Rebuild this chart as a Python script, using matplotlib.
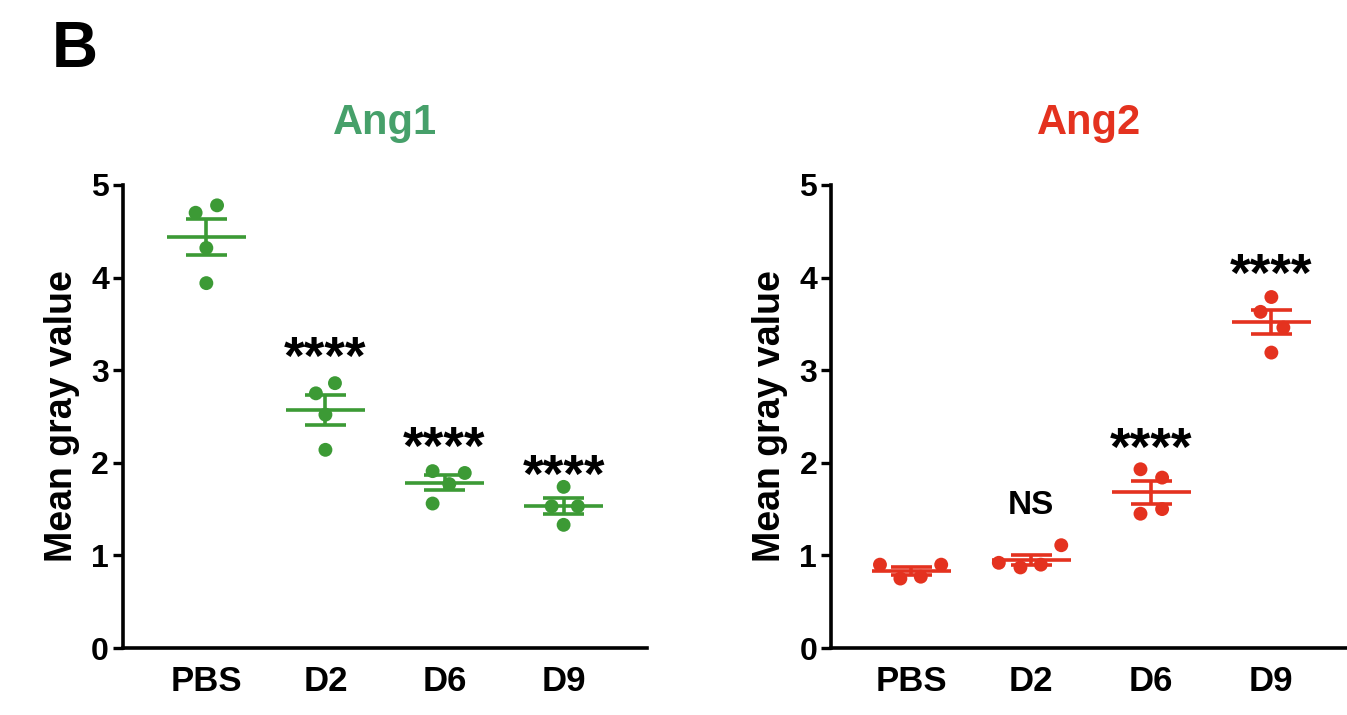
import matplotlib
matplotlib.use("Agg")
import matplotlib.pyplot as plt
import matplotlib.transforms as mtransforms
import numpy as np

plt.rcParams["font.family"] = ["Liberation Sans", "DejaVu Sans"]
plt.rcParams["font.weight"] = "bold"

groups = ["PBS", "D2", "D6", "D9"]

ang1_values = [
    [4.70, 4.78, 4.32, 3.94],
    [2.75, 2.86, 2.52, 2.14],
    [1.91, 1.89, 1.77, 1.56],
    [1.74, 1.53, 1.53, 1.33],
]
ang2_values = [
    [0.90, 0.75, 0.77, 0.90],
    [0.92, 0.87, 0.90, 1.11],
    [1.93, 1.84, 1.45, 1.50],
    [3.79, 3.63, 3.46, 3.19],
]

ang1_marks = ["", "****", "****", "****"]
ang1_mark_y = [None, 3.27, 2.30, 2.00]
ang2_marks = ["", "NS", "****", "****"]
ang2_mark_y = [None, 1.54, 2.29, 4.17]

# horizontal jitter of the dots (layout only)
ang1_jitter = [[-0.09, 0.09, 0.0, 0.0], [-0.08, 0.08, 0.0, 0.0],
               [-0.10, 0.17, 0.04, -0.10], [0.0, -0.10, 0.12, 0.0]]
ang2_jitter = [[-0.26, -0.09, 0.08, 0.25], [-0.27, -0.09, 0.08, 0.25],
               [-0.09, 0.09, -0.09, 0.09], [0.0, -0.09, 0.10, 0.0]]

GREEN = "#3c9a35"
GREEN_TITLE = "#46a06a"
RED = "#e4321f"


def draw_panel(fig, ax, values, jitter, marks, mark_y, color, title, title_color, xlim):
    # stars sit high in the glyph box, so shift them down to centre them on mark_y
    star_tf = mtransforms.offset_copy(ax.transData, fig=fig, y=-29, units="dots")
    for i, (vals, jit) in enumerate(zip(values, jitter)):
        vals = np.array(vals)
        mean = vals.mean()
        sem = vals.std(ddof=1) / np.sqrt(len(vals))
        ax.scatter(i + np.array(jit), vals, s=100, color=color, zorder=3,
                   edgecolors="none")
        ax.hlines(mean, i - 0.33, i + 0.33, color=color, lw=2.6, zorder=4)
        ax.hlines([mean - sem, mean + sem], i - 0.17, i + 0.17, color=color,
                  lw=2.6, zorder=4)
        ax.vlines(i, mean - sem, mean + sem, color=color, lw=2.6, zorder=4)
        if marks[i] == "NS":
            ax.text(i, mark_y[i], marks[i], ha="center", va="center",
                    fontsize=24, fontweight="bold")
        elif marks[i]:
            ax.text(i, mark_y[i], marks[i], ha="center", va="baseline",
                    fontsize=38, fontweight="bold", transform=star_tf)
    ax.set_xlim(*xlim)
    ax.set_ylim(0, 5)
    ax.set_yticks(range(6))
    ax.set_xticks(range(len(groups)))
    ax.set_xticklabels(groups)
    ax.spines["top"].set_visible(False)
    ax.spines["right"].set_visible(False)
    ax.spines["left"].set_linewidth(2.6)
    ax.spines["bottom"].set_linewidth(2.6)
    ax.tick_params(axis="y", length=7, width=2.4, labelsize=23, pad=3)
    ax.tick_params(axis="x", length=0, labelsize=25, pad=12)
    ax.set_ylabel("Mean gray value", fontsize=27, fontweight="bold", labelpad=8)
    ax.set_title(title, color=title_color, fontsize=30, fontweight="bold",
                 y=1.11, pad=0)
    ax.patch.set_alpha(0)


fig = plt.figure(figsize=(13.47, 7.15), dpi=100)
ax1 = fig.add_axes([0.0913, 0.0937, 0.389, 0.6476])
ax2 = fig.add_axes([0.617, 0.0937, 0.383, 0.6476])

draw_panel(fig, ax1, ang1_values, ang1_jitter, ang1_marks, ang1_mark_y, GREEN,
           "Ang1", GREEN_TITLE, (-0.70, 3.70))
draw_panel(fig, ax2, ang2_values, ang2_jitter, ang2_marks, ang2_mark_y, RED,
           "Ang2", RED, (-0.667, 3.63))

fig.text(0.0386, 0.93, "B", fontsize=46, fontweight="bold", va="center")

fig.savefig("out.png", dpi=100, facecolor="white")
